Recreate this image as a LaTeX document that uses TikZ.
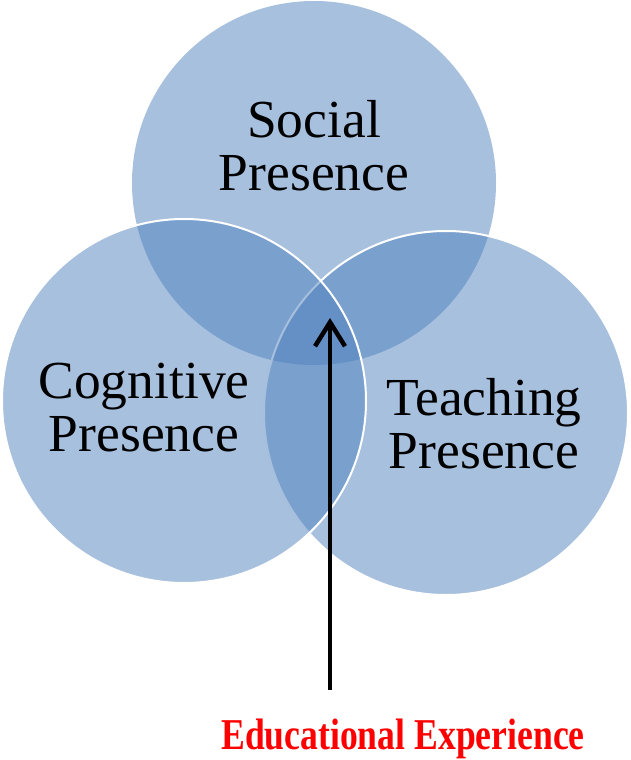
\documentclass[tikz,border=0pt]{standalone}
\usepackage{fontspec}
\setmainfont{Liberation Serif}
\usetikzlibrary{arrows.meta}
\definecolor{vennblue}{HTML}{4F81BD}
\definecolor{edured}{HTML}{FF0000}
\tikzset{
  venn/.style={circle, inner sep=0pt, minimum size=364pt, fill=vennblue, fill opacity=0.5, draw=white, line width=2pt},
  vennlabel/.style={align=center, inner sep=0pt, text=black, font=\fontsize{53.5}{53}\selectfont},
  edulabel/.style={inner sep=0pt, anchor=base, text=edured, xscale=0.81, transform shape, font=\fontsize{44}{48}\selectfont\bfseries},
  bigarrow/.style={line width=4.5pt, -{Straight Barb[length=24pt,width=30pt,line width=4.5pt]}}
}
\begin{document}
\begin{tikzpicture}[x=1pt,y=-1pt]
\useasboundingbox (0,0) rectangle (630,760);
\node[venn, draw=none] (social) at (314,183) {};
\node[venn] (teaching) at (446,413) {};
\node[venn] (cognitive) at (184,401) {};
\node[vennlabel] (socialtext) at (314,145.5) {Social\\Presence};
\node[vennlabel] (cognitivetext) at (144,408) {Cognitive\\Presence};
\node[vennlabel] (teachingtext) at (484,423.5) {Teaching\\Presence};
\node[edulabel] (edu) at (403,749) {Educational Experience};
\coordinate (arrowstart) at (330,690);
\coordinate (arrowtip) at (330,318);
\draw[bigarrow] (arrowstart) -- (arrowtip);
\end{tikzpicture}
\end{document}
